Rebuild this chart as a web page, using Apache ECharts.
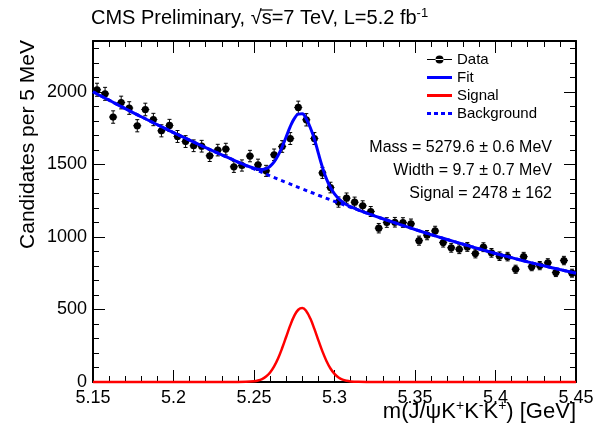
<!DOCTYPE html>
<html>
<head>
<meta charset="utf-8">
<script src="https://cdn.jsdelivr.net/npm/echarts@6/dist/echarts.min.js"></script>
<style>
  html, body { margin: 0; padding: 0; background: #fff; }
  #chart { width: 602px; height: 428px; }
</style>
</head>
<body>
<div id="chart"></div>
<script>
// Histogram of J/psi K+ K- K+ invariant mass, 5 MeV bins from 5.15 to 5.45 GeV
const binLow = 5.15;
const binWidth = 0.005;
const counts = [
  2014, 1986, 1826, 1926, 1888, 1766, 1878, 1809, 1731, 1768,
  1692, 1657, 1628, 1625, 1559, 1598, 1605, 1483, 1492, 1557,
  1497, 1455, 1566, 1623, 1678, 1892, 1807, 1678, 1441, 1340,
  1240, 1267, 1239, 1214, 1175, 1060, 1099, 1101, 1099, 1090,
   974, 1012, 1041,  961,  925,  915,  931,  885,  929,  890,
   867,  864,  777,  864,  795,  802,  821,  754,  837,  750
];

// Total fit curve (GeV, candidates per 5 MeV)
const fitMass = [
  5.15, 5.16, 5.17, 5.18, 5.19, 5.20, 5.21, 5.22, 5.23, 5.24,
  5.245, 5.25, 5.2525, 5.255, 5.2575, 5.26, 5.2625, 5.265, 5.2675, 5.27,
  5.2725, 5.275, 5.2775, 5.28, 5.2825, 5.285, 5.2875, 5.29, 5.2925, 5.295,
  5.2975, 5.30, 5.3025, 5.305, 5.3075, 5.31, 5.315, 5.32, 5.33, 5.34,
  5.35, 5.36, 5.37, 5.38, 5.39, 5.40, 5.41, 5.42, 5.43, 5.44, 5.45
];
const fitCurve = [
  2000, 1942, 1884, 1828, 1773, 1719, 1667, 1615, 1565, 1516,
  1493, 1473, 1466, 1465, 1471, 1487, 1517, 1562, 1620, 1690,
  1760, 1815, 1846, 1848, 1812, 1752, 1675, 1575, 1480, 1400,
  1340, 1296, 1264, 1240, 1222, 1208, 1185, 1164, 1125, 1088,
  1051, 1016, 982, 949, 917, 886, 857, 828, 801, 775, 750
];

// Signal component
const sigMass = [
  5.15, 5.24, 5.245, 5.25, 5.2525, 5.255, 5.2575, 5.26, 5.2625, 5.265,
  5.2675, 5.27, 5.2725, 5.275, 5.2775, 5.28, 5.2825, 5.285, 5.2875, 5.29,
  5.2925, 5.295, 5.2975, 5.30, 5.3025, 5.305, 5.3075, 5.31, 5.315, 5.32, 5.45
];
const sigCurve = [
  0, 0, 1, 5, 10, 20, 38, 66, 108, 164,
  234, 312, 390, 456, 498, 510, 488, 437, 366, 287,
  211, 145, 93, 56, 31, 16, 8, 4, 1, 0, 0
];

// Background component
const bgMass = [
  5.15, 5.16, 5.17, 5.18, 5.19, 5.20, 5.21, 5.22, 5.23, 5.24,
  5.25, 5.26, 5.27, 5.28, 5.29, 5.30, 5.31, 5.32, 5.33, 5.34,
  5.35, 5.36, 5.37, 5.38, 5.39, 5.40, 5.41, 5.42, 5.43, 5.44, 5.45
];
const bgCurve = [
  2000, 1942, 1884, 1828, 1773, 1719, 1667, 1615, 1565, 1516,
  1468, 1421, 1375, 1331, 1287, 1245, 1204, 1164, 1125, 1088,
  1051, 1016, 982, 949, 917, 886, 857, 828, 801, 775, 750
];

const xTicks = ['5.15', '5.2', '5.25', '5.3', '5.35', '5.4', '5.45'];
const yTicks = ['0', '500', '1000', '1500', '2000'];
const fitResults = [
  'Mass = 5279.6 \u00b1 0.6 MeV',
  'Width = 9.7 \u00b1 0.7 MeV',
  'Signal = 2478 \u00b1 162'
];

const FONT = '"Liberation Sans", Arial, Helvetica, sans-serif';
const zip = (a, b) => a.map((v, i) => [v, b[i]]);
const dataPoints = counts.map((n, i) => [binLow + binWidth * (i + 0.5), n]);

// Header text; the square-root bar over "s" is measured from the font
const titleFont = '20px ' + FONT;
const titleLeft = 91;
const titlePre = 'CMS Preliminary, \u221a';
const measure = document.createElement('canvas').getContext('2d');
measure.font = titleFont;
const barStart = titleLeft + measure.measureText(titlePre).width - 1;
const barEnd = barStart + measure.measureText('s').width + 2;

const chart = echarts.init(document.getElementById('chart'), null, { renderer: 'canvas' });

const black = '#000';
const baseX = {
  type: 'value', min: 5.15, max: 5.45, interval: 0.05,
  axisLine: { show: true, onZero: false, lineStyle: { color: black, width: 2 } },
  axisTick: { show: true, inside: true, length: 12, lineStyle: { color: black, width: 1 } },
  minorTick: { show: true, splitNumber: 5, length: 6, lineStyle: { color: black, width: 1 } },
  splitLine: { show: false },
  minorSplitLine: { show: false }
};
const majorY = {
  type: 'value', min: 0, max: 2350, interval: 500,
  axisLine: { show: true, onZero: false, lineStyle: { color: black, width: 2 } },
  axisTick: { show: true, inside: true, length: 12, lineStyle: { color: black, width: 1 } },
  splitLine: { show: false }
};
const minorY = {
  type: 'value', min: 0, max: 2350, interval: 100,
  axisLine: { show: false },
  axisTick: { show: true, inside: true, length: 6, lineStyle: { color: black, width: 1 } },
  axisLabel: { show: false },
  splitLine: { show: false }
};

const option = {
  animation: false,
  backgroundColor: '#fff',
  grid: { left: 93, right: 26, top: 41, bottom: 46, containLabel: false },
  xAxis: [
    Object.assign({}, baseX, {
      position: 'bottom',
      axisLabel: {
        show: true, margin: 7, color: black, fontSize: 18, fontFamily: FONT,
        formatter: v => xTicks.find(t => Math.abs(parseFloat(t) - v) < 1e-6) || ''
      }
    }),
    Object.assign({}, baseX, { position: 'top', axisLabel: { show: false } })
  ],
  yAxis: [
    Object.assign({}, majorY, {
      position: 'left',
      axisLabel: {
        show: true, margin: 6, color: black, fontSize: 18, fontFamily: FONT, showMaxLabel: false,
        formatter: v => yTicks.find(t => Math.abs(parseFloat(t) - v) < 1e-6) || ''
      }
    }),
    Object.assign({}, majorY, { position: 'right', axisLabel: { show: false } }),
    Object.assign({}, minorY, { position: 'left' }),
    Object.assign({}, minorY, { position: 'right' })
  ],
  legend: {
    orient: 'vertical', left: 422, top: 47,
    itemWidth: 25, itemHeight: 8, itemGap: 3, symbolKeepAspect: true,
    textStyle: { fontSize: 15, fontFamily: FONT, color: black },
    data: [
      { name: 'Data', icon: 'path://M0,3.5L25,3.5L25,4.5L0,4.5Z M8.5,4A4,4,0,1,0,16.5,4A4,4,0,1,0,8.5,4Z',
        itemStyle: { color: black } },
      { name: 'Fit', icon: 'path://M0,0L25,0L25,3L0,3Z', itemStyle: { color: '#0000ff' } },
      { name: 'Signal', icon: 'path://M0,0L25,0L25,3L0,3Z', itemStyle: { color: '#ff0000' } },
      { name: 'Background',
        icon: 'path://M0,0L4,0L4,3L0,3Z M7,0L11,0L11,3L7,3Z M14,0L18,0L18,3L14,3Z M21,0L25,0L25,3L21,3Z',
        itemStyle: { color: '#0000ff' } }
    ]
  },
  graphic: [
    {
      type: 'text', left: titleLeft, top: 7, silent: true,
      style: {
        text: 'CMS Preliminary, \u221as=7 TeV, L=5.2 fb{sup|-1}',
        font: titleFont, fill: black,
        rich: { sup: { fontSize: 13, fontFamily: FONT, padding: [0, 0, 10, 0] } }
      }
    },
    {
      type: 'line', silent: true,
      shape: { x1: barStart, y1: 10, x2: barEnd, y2: 10 },
      style: { stroke: black, lineWidth: 1.2 }
    },
    {
      type: 'text', silent: true, x: 576, y: 412,
      style: {
        text: 'm(J/\u03c8K{sup|+}K{sup|-}K{sup|+}) [GeV]',
        font: '22px ' + FONT, fill: black, align: 'right', verticalAlign: 'middle',
        rich: { sup: { fontSize: 14, fontFamily: FONT, padding: [0, 0, 11, 0] } }
      }
    },
    {
      type: 'text', silent: true, x: 28, y: 40, rotation: Math.PI / 2,
      style: {
        text: 'Candidates per 5 MeV',
        font: '21px ' + FONT, fill: black, align: 'right', verticalAlign: 'middle'
      }
    }
  ].concat(fitResults.map((t, i) => ({
    type: 'text', silent: true, x: 552, y: 148 + 23 * i,
    style: { text: t, font: '16px ' + FONT, fill: black, align: 'right', verticalAlign: 'middle' }
  }))),
  series: [
    {
      name: 'Data', type: 'custom', xAxisIndex: 0, yAxisIndex: 0, z: 3,
      data: dataPoints,
      encode: { x: 0, y: 1 },
      renderItem: function (params, api) {
        const x = api.value(0), y = api.value(1);
        const err = Math.sqrt(y);
        const c = api.coord([x, y]);
        const top = api.coord([x, y + err]);
        const bot = api.coord([x, y - err]);
        const l = api.coord([x - binWidth / 2, y]);
        const r = api.coord([x + binWidth / 2, y]);
        const st = { stroke: black, lineWidth: 1 };
        return {
          type: 'group',
          children: [
            { type: 'line', shape: { x1: c[0], y1: top[1], x2: c[0], y2: bot[1] }, style: st },
            { type: 'line', shape: { x1: l[0], y1: c[1], x2: r[0], y2: c[1] }, style: st },
            { type: 'line', shape: { x1: c[0] - 2, y1: top[1], x2: c[0] + 2, y2: top[1] }, style: st },
            { type: 'line', shape: { x1: c[0] - 2, y1: bot[1], x2: c[0] + 2, y2: bot[1] }, style: st },
            { type: 'circle', shape: { cx: c[0], cy: c[1], r: 3.6 }, style: { fill: black } }
          ]
        };
      }
    },
    {
      name: 'Fit', type: 'line', xAxisIndex: 0, yAxisIndex: 0, z: 5,
      data: zip(fitMass, fitCurve), smooth: 0.4, symbol: 'none',
      lineStyle: { color: '#0000ff', width: 3 }, itemStyle: { color: '#0000ff' }
    },
    {
      name: 'Signal', type: 'line', xAxisIndex: 0, yAxisIndex: 0, z: 5, clip: false,
      data: zip(sigMass, sigCurve), smooth: 0.4, symbol: 'none',
      lineStyle: { color: '#ff0000', width: 2.5 }, itemStyle: { color: '#ff0000' }
    },
    {
      name: 'Background', type: 'line', xAxisIndex: 0, yAxisIndex: 0, z: 5,
      data: zip(bgMass, bgCurve), smooth: 0.4, symbol: 'none',
      lineStyle: { color: '#0000ff', width: 3, type: [4, 4] }, itemStyle: { color: '#0000ff' }
    }
  ]
};

chart.setOption(option);
</script>
</body>
</html>
